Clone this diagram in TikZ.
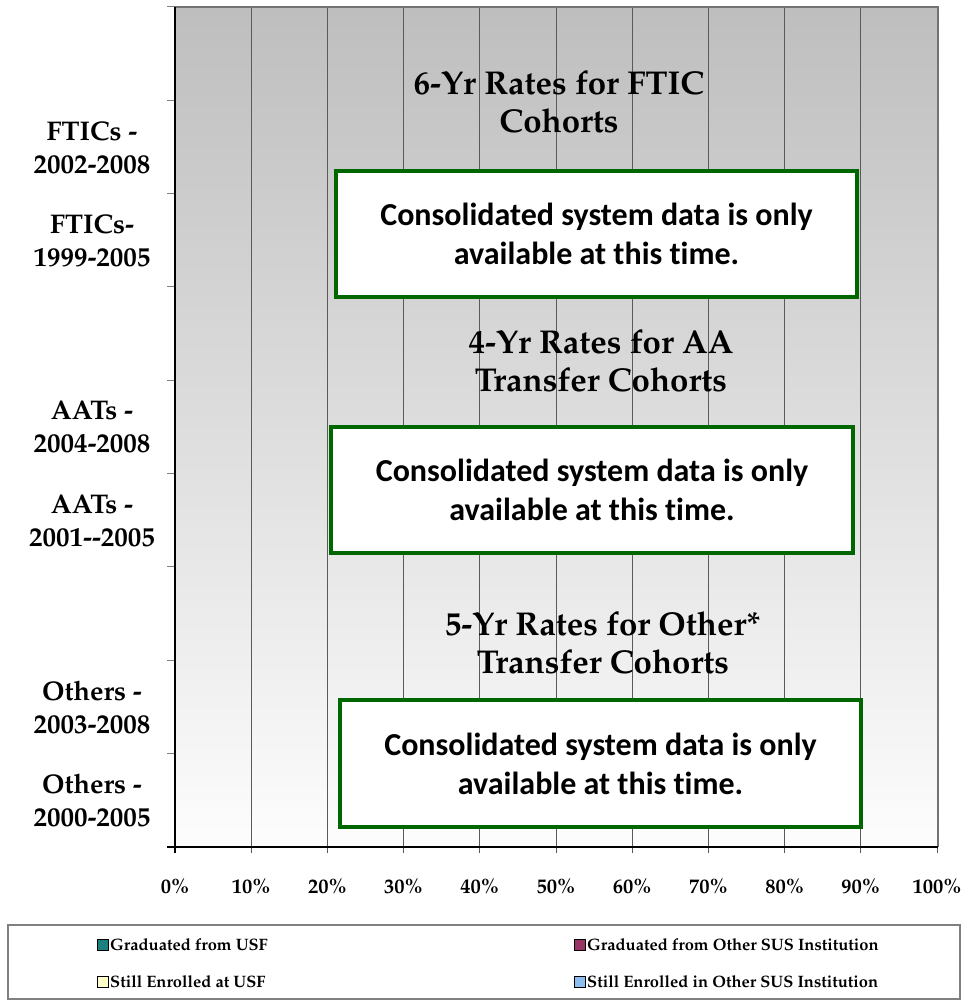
\documentclass[tikz,border=0pt]{standalone}
\usepackage[T1]{fontenc}
\usepackage{fontspec}
\newfontfamily\calib[Ligatures=NoCommon]{Carlito}
\newcommand\palfont{\fontencoding{T1}\fontfamily{ppl}\selectfont}
\definecolor{topg}{RGB}{190,190,190}
\definecolor{botg}{RGB}{253,253,253}
\definecolor{boxgreen}{RGB}{0,102,0}
\definecolor{gridc}{RGB}{90,90,90}
\definecolor{teal1}{RGB}{26,128,128}
\definecolor{maroon1}{RGB}{153,51,102}
\definecolor{paley}{RGB}{255,255,204}
\definecolor{lblue}{RGB}{140,190,240}
\tikzset{
  gridline/.style={draw=gridc,line width=0.9pt},
  ylab/.style={font=\palfont\bfseries\fontsize{27}{33}\selectfont,align=center,inner sep=0pt},
  xlab/.style={font=\palfont\bfseries\fontsize{20.5}{24}\selectfont,inner sep=0pt},
  ttl/.style={font=\palfont\bfseries\fontsize{33}{38.5}\selectfont,align=center,inner sep=0pt},
  infobox/.style={draw=boxgreen,line width=4pt,fill=white,font=\calib\bfseries\fontsize{32}{39}\selectfont,align=center},
  legtxt/.style={font=\palfont\bfseries\fontsize{16.5}{20}\selectfont,anchor=west,inner sep=0pt},
  legsq/.style={draw=black,line width=1.6pt,minimum size=11pt,inner sep=0pt}
}
\begin{document}
\begin{tikzpicture}[x=1pt,y=-1pt]
\useasboundingbox (0,0) rectangle (968,1003);
\fill[white] (0,0) rectangle (968,1003);
% plot area
\shade[top color=topg,bottom color=botg] (175,7) rectangle (938,847);
\foreach \i in {1,...,10} \draw[gridline] ({175+76.2*\i},7) -- ({175+76.2*\i},853);
\foreach \j in {0,...,9} \draw[draw=gray,line width=1pt] (167,{7+93.33*\j}) -- (175,{7+93.33*\j});
\draw[draw=gray!90!black,line width=2pt] (175,7) -- (938,7) -- (938,847);
\draw[black,line width=1.3pt] (175,7) -- (175,853);
\draw[black,line width=1.3pt] (167,847) -- (938,847);
\draw[black,line width=1pt] (175,847) -- (175,853);
% category labels
\node[ylab] (l1) at (92,148) {FTICs -\\2002-2008};
\node[ylab] (l2) at (92,241) {FTICs-\\1999-2005};
\node[ylab] (l3) at (92,427) {AATs -\\2004-2008};
\node[ylab] (l4) at (92,521) {AATs -\\2001{-}{-}2005};
\node[ylab] (l5) at (92,707) {Others -\\2003-2008};
\node[ylab] (l6) at (92,800) {Others -\\2000-2005};
% x labels
\foreach \i in {0,...,10} \node[xlab] (x\i) at ({175+76.2*\i},886) {\the\numexpr\i*10\relax\%};
% titles
\node[ttl] (t1) at (559,102) {6-Yr Rates for FTIC\\Cohorts};
\node[ttl] (t2) at (601,361) {4-Yr Rates for AA\\Transfer Cohorts};
\node[ttl] (t3) at (603,643) {5-Yr Rates for Other*\\Transfer Cohorts};
% info boxes
\node[infobox,minimum width=521pt,minimum height=126pt] (b1) at (596.5,234) {Consolidated system data is only\\available at this time.};
\node[infobox,minimum width=522pt,minimum height=126pt] (b2) at (592,490) {Consolidated system data is only\\available at this time.};
\node[infobox,minimum width=521pt,minimum height=127pt] (b3) at (600.5,763.5) {Consolidated system data is only\\available at this time.};
% legend
\draw[draw=gray,line width=1.2pt] (8,925) rectangle (960,999);
\node[legsq,fill=teal1] (s1) at (103,945) {};
\node[legtxt] (g1) at (110,945) {Graduated from USF};
\node[legsq,fill=paley] (s2) at (103,982) {};
\node[legtxt] (g2) at (110,982) {Still Enrolled at USF};
\node[legsq,fill=maroon1] (s3) at (580,945) {};
\node[legtxt] (g3) at (587,945) {Graduated from Other SUS Institution};
\node[legsq,fill=lblue] (s4) at (580,982) {};
\node[legtxt] (g4) at (587,982) {Still Enrolled in Other SUS Institution};
\end{tikzpicture}
\end{document}
